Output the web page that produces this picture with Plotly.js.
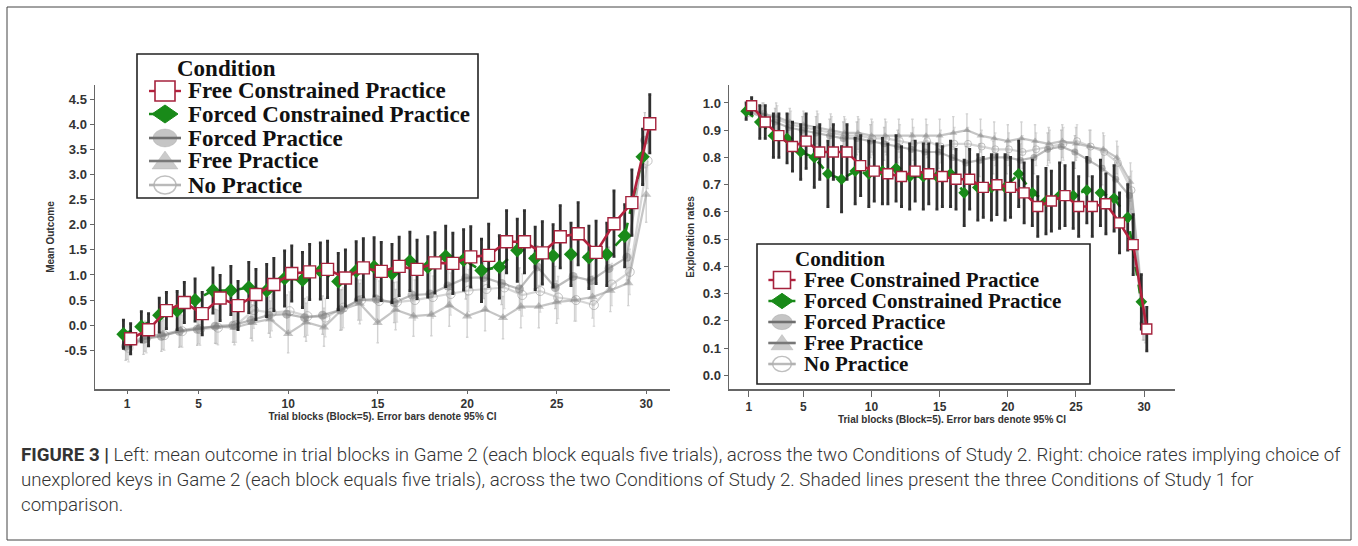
<!DOCTYPE html>
<html>
<head>
<meta charset="utf-8">
<script src="https://cdn.plot.ly/plotly-3.0.1.min.js"></script>
<style>html,body{margin:0;padding:0;background:#fff;}#chart{width:1358px;height:546px;}</style>
</head>
<body>
<div id="chart"></div>
<script>
// ---------- data ----------
const blocks = [1,2,3,4,5,6,7,8,9,10,11,12,13,14,15,16,17,18,19,20,21,22,23,24,25,26,27,28,29,30];
const xTickVals = [1,5,10,15,20,25,30];
const seriesNames = ["Free Constrained Practice","Forced Constrained Practice","Forced Practice","Free Practice","No Practice"];
const legendTitle = "Condition";

// Left panel: mean outcome
const leftYTicks = [-0.5,0,0.5,1,1.5,2,2.5,3,3.5,4,4.5];
const L_freeConstrained = [-0.27,-0.09,0.29,0.45,0.23,0.54,0.39,0.61,0.81,1.03,1.06,1.11,0.94,1.14,1.07,1.17,1.11,1.24,1.23,1.36,1.39,1.66,1.66,1.44,1.76,1.82,1.45,2.02,2.44,4.01];
const L_freeConstrainedCI = [0.30,0.32,0.36,0.40,0.42,0.45,0.48,0.50,0.52,0.55,0.55,0.56,0.56,0.58,0.58,0.58,0.58,0.60,0.60,0.60,0.62,0.62,0.62,0.62,0.62,0.62,0.62,0.65,0.65,0.58];
const L_forcedConstrained = [-0.18,-0.03,0.20,0.29,0.50,0.69,0.69,0.75,0.69,0.93,0.90,1.08,0.87,1.08,1.16,1.03,1.27,1.16,1.37,1.30,1.09,1.16,1.49,1.33,1.38,1.41,1.35,1.41,1.78,3.35];
const L_forcedConstrainedCI = [0.28,0.30,0.34,0.38,0.42,0.45,0.48,0.50,0.52,0.55,0.55,0.56,0.56,0.58,0.58,0.58,0.58,0.60,0.60,0.60,0.62,0.62,0.62,0.62,0.62,0.62,0.62,0.62,0.62,0.55];
const L_forcedPractice = [-0.42,-0.28,-0.22,-0.12,-0.08,-0.02,0.00,0.10,0.20,0.22,0.15,0.20,0.30,0.50,0.52,0.45,0.60,0.62,0.78,0.94,0.95,0.83,0.72,1.16,0.75,0.97,0.89,1.13,1.35,3.68];
const L_freePractice = [-0.40,-0.22,-0.18,-0.10,-0.05,-0.03,-0.05,0.05,0.12,-0.17,0.06,-0.04,0.31,0.43,0.05,0.31,0.18,0.21,0.40,0.18,0.31,0.15,0.37,0.37,0.46,0.50,0.56,0.69,0.84,2.60];
const L_noPractice = [-0.45,-0.25,-0.20,-0.12,-0.08,-0.05,0.00,0.30,0.25,0.28,0.18,0.15,0.35,0.50,0.48,0.46,0.50,0.56,0.62,0.69,0.72,0.75,0.60,0.68,0.55,0.50,0.40,0.81,1.06,3.27];
const L_grayCI = [0.28,0.30,0.30,0.32,0.32,0.34,0.34,0.36,0.36,0.38,0.38,0.38,0.40,0.40,0.40,0.40,0.40,0.42,0.42,0.42,0.42,0.42,0.42,0.42,0.42,0.42,0.42,0.42,0.45,0.55];

// Right panel: exploration rates
const rightYTicks = [0,0.1,0.2,0.3,0.4,0.5,0.6,0.7,0.8,0.9,1.0];
const R_freeConstrained = [0.99,0.93,0.88,0.84,0.86,0.82,0.82,0.82,0.77,0.75,0.74,0.73,0.75,0.74,0.73,0.72,0.72,0.69,0.70,0.69,0.67,0.62,0.64,0.66,0.62,0.62,0.63,0.56,0.48,0.17];
const R_freeConstrainedCI = [0.03,0.06,0.08,0.09,0.10,0.10,0.10,0.10,0.11,0.11,0.11,0.11,0.11,0.11,0.11,0.11,0.11,0.11,0.11,0.11,0.11,0.11,0.11,0.11,0.11,0.11,0.11,0.11,0.11,0.08];
const R_forcedConstrained = [0.97,0.93,0.88,0.87,0.82,0.80,0.74,0.72,0.75,0.74,0.75,0.76,0.73,0.73,0.73,0.74,0.67,0.69,0.69,0.69,0.74,0.67,0.64,0.66,0.66,0.68,0.67,0.65,0.58,0.27];
const R_forcedConstrainedCI = [0.03,0.06,0.08,0.09,0.10,0.11,0.12,0.12,0.12,0.12,0.12,0.12,0.12,0.12,0.12,0.12,0.12,0.12,0.12,0.12,0.12,0.12,0.12,0.12,0.12,0.12,0.12,0.12,0.12,0.10];
const R_forcedPractice = [0.97,0.95,0.93,0.91,0.90,0.89,0.88,0.87,0.87,0.86,0.85,0.84,0.83,0.82,0.82,0.80,0.78,0.79,0.80,0.80,0.79,0.80,0.83,0.84,0.82,0.79,0.76,0.72,0.66,0.19];
const R_freePractice = [0.98,0.96,0.95,0.93,0.92,0.91,0.90,0.89,0.89,0.88,0.88,0.88,0.88,0.88,0.88,0.89,0.90,0.88,0.87,0.86,0.87,0.86,0.85,0.86,0.85,0.84,0.83,0.80,0.71,0.19];
const R_noPractice = [0.97,0.96,0.94,0.92,0.91,0.90,0.89,0.88,0.88,0.87,0.87,0.86,0.85,0.86,0.84,0.85,0.85,0.84,0.83,0.83,0.82,0.83,0.84,0.85,0.86,0.84,0.82,0.78,0.68,0.18];
const R_grayCI = [0.02,0.04,0.05,0.05,0.05,0.06,0.06,0.06,0.06,0.06,0.06,0.06,0.06,0.06,0.06,0.06,0.06,0.06,0.06,0.06,0.06,0.06,0.06,0.06,0.06,0.06,0.06,0.06,0.07,0.06];

const captionLines = [
  "<b>FIGURE 3 |</b> Left: mean outcome in trial blocks in Game 2 (each block equals five trials), across the two Conditions of Study 2. Right: choice rates implying choice of",
  "unexplored keys in Game 2 (each block equals five trials), across the two Conditions of Study 2. Shaded lines present the three Conditions of Study 1 for",
  "comparison."
];

// ---------- styles ----------
const W = 1358, H = 546;
const px = v => v / W, py = v => (H - v) / H;
const styles = [
  {line:{color:'#b3213d',width:2.6}, marker:{symbol:'square',size:12,color:'#ffffff',line:{color:'#a5223c',width:1.4}}, err:{color:'rgba(25,25,25,0.9)',thickness:2.8,width:1.5}, dodge:0.2},
  {line:{color:'#198a19',width:2.6,dash:'dash'}, marker:{symbol:'diamond',size:11,color:'#198a19'}, err:{color:'rgba(25,25,25,0.9)',thickness:2.8,width:1.5}, dodge:-0.2},
  {line:{color:'rgba(120,120,120,0.5)',width:2.2}, marker:{symbol:'circle',size:9,color:'rgba(120,120,120,0.5)'}, err:{color:'rgba(150,150,150,0.5)',thickness:1.4,width:1.2}, dodge:-0.08},
  {line:{color:'rgba(140,140,140,0.5)',width:2.2}, marker:{symbol:'triangle-up',size:9,color:'rgba(140,140,140,0.5)'}, err:{color:'rgba(165,165,165,0.5)',thickness:1.4,width:1.2}, dodge:0.0},
  {line:{color:'rgba(180,180,180,0.55)',width:2.2}, marker:{symbol:'circle-open',size:9,color:'rgba(170,170,170,0.7)'}, err:{color:'rgba(185,185,185,0.5)',thickness:1.4,width:1.2}, dodge:0.08}
];

function mk(idx, ys, ci, xa, ya, msize) {
  const s = styles[idx];
  const marker = Object.assign({}, s.marker, {size: msize ? msize(s.marker.size) : s.marker.size});
  return {
    type:'scatter', mode:'lines+markers', name: seriesNames[idx], showlegend:false,
    x: blocks.map(b => b + s.dodge), y: ys,
    xaxis: xa, yaxis: ya,
    line: s.line, marker: marker,
    error_y: {type:'data', array: ci, visible:true, color:s.err.color, thickness:s.err.thickness, width:s.err.width},
    hoverinfo:'skip'
  };
}
const small = v => v - 2;
const traces = [
  mk(4, L_noPractice, L_grayCI, 'x', 'y'),
  mk(3, L_freePractice, L_grayCI, 'x', 'y'),
  mk(2, L_forcedPractice, L_grayCI, 'x', 'y'),
  mk(1, L_forcedConstrained, L_forcedConstrainedCI, 'x', 'y'),
  mk(0, L_freeConstrained, L_freeConstrainedCI, 'x', 'y'),
  mk(4, R_noPractice, R_grayCI, 'x2', 'y2', small),
  mk(3, R_freePractice, R_grayCI, 'x2', 'y2', small),
  mk(2, R_forcedPractice, R_grayCI, 'x2', 'y2', small),
  mk(1, R_forcedConstrained, R_forcedConstrainedCI, 'x2', 'y2', small),
  mk(0, R_freeConstrained, R_freeConstrainedCI, 'x2', 'y2', small)
];

// ---------- custom legends (layout decoration) ----------
const shapes = [];
const annotations = [];
function addLegend(box, rows, sc, fontSize) {
  shapes.push({type:'rect', xref:'paper', yref:'paper', x0:px(box.x0), x1:px(box.x1), y0:py(box.y1), y1:py(box.y0),
    fillcolor:'#fff', line:{color:'#222', width:1.6}, layer:'above'});
  const font = {family:'Liberation Serif, Times New Roman, serif', size:fontSize, color:'#111', weight:'bold'};
  annotations.push({xref:'paper', yref:'paper', x:px(box.x0 + box.titleOff), y:py(rows.title), xanchor:'left', yanchor:'middle',
    showarrow:false, text:legendTitle, font:font});
  rows.items.forEach((cy, i) => {
    const cx = box.x0 + box.symOff;
    const anc = {xref:'paper', yref:'paper', xsizemode:'pixel', ysizemode:'pixel', xanchor:px(cx), yanchor:py(cy), layer:'above'};
    const lineCols = ['#b3213d', '#198a19', 'rgba(110,110,110,0.8)', 'rgba(120,120,120,0.8)', 'rgba(175,175,175,0.8)'];
    const half = 16 * sc;
    shapes.push({type:'line', xref:'paper', yref:'paper', x0:px(cx - half), x1:px(cx + half), y0:py(cy), y1:py(cy),
      line:{color:lineCols[i], width:2.4, dash: i === 1 ? 'dash' : 'solid'}, layer:'above'});
    if (i === 0) {
      shapes.push(Object.assign({type:'rect', x0:-10*sc, x1:10*sc, y0:-10*sc, y1:10*sc, fillcolor:'#fff', line:{color:'#a5223c', width:1.6}}, anc));
    } else if (i === 1) {
      shapes.push(Object.assign({type:'path', path:`M${-13*sc},0 L0,${9*sc} L${13*sc},0 L0,${-9*sc} Z`, fillcolor:'#198a19', line:{color:'#198a19', width:1}}, anc));
    } else if (i === 2) {
      shapes.push(Object.assign({type:'circle', x0:-12*sc, x1:12*sc, y0:-9*sc, y1:9*sc, fillcolor:'rgba(150,150,150,0.55)', line:{color:'rgba(150,150,150,0.3)', width:1}}, anc));
      shapes.push({type:'line', xref:'paper', yref:'paper', x0:px(cx - half), x1:px(cx + half), y0:py(cy), y1:py(cy), line:{color:'rgba(100,100,100,0.75)', width:2.4}, layer:'above'});
    } else if (i === 3) {
      shapes.push(Object.assign({type:'path', path:`M${-13*sc},${-8*sc} L${13*sc},${-8*sc} L0,${10*sc} Z`, fillcolor:'rgba(160,160,160,0.55)', line:{color:'rgba(160,160,160,0.3)', width:1}}, anc));
      shapes.push({type:'line', xref:'paper', yref:'paper', x0:px(cx - half), x1:px(cx + half), y0:py(cy), y1:py(cy), line:{color:'rgba(110,110,110,0.75)', width:2.4}, layer:'above'});
    } else {
      shapes.push(Object.assign({type:'circle', x0:-11*sc, x1:11*sc, y0:-9*sc, y1:9*sc, fillcolor:'rgba(255,255,255,0.9)', line:{color:'rgba(175,175,175,0.8)', width:1.4}}, anc));
      shapes.push({type:'line', xref:'paper', yref:'paper', x0:px(cx - half), x1:px(cx + half), y0:py(cy), y1:py(cy), line:{color:'rgba(175,175,175,0.85)', width:2.4}, layer:'above'});
    }
    annotations.push({xref:'paper', yref:'paper', x:px(box.x0 + box.textOff), y:py(cy), xanchor:'left', yanchor:'middle',
      showarrow:false, text:seriesNames[i], font:font});
  });
}
addLegend({x0:137, x1:478, y0:54, y1:198, symOff:28, textOff:49, titleOff:38},
          {title:68, items:[91, 114, 138, 161, 185]}, 1.0, 23);
addLegend({x0:757, x1:1090, y0:244, y1:384, symOff:25, textOff:45, titleOff:36},
          {title:259, items:[280, 301, 322, 343, 364]}, 0.85, 21);

// frame
shapes.push({type:'rect', xref:'paper', yref:'paper', x0:px(7), x1:px(1351), y0:py(540), y1:py(7), line:{color:'#444', width:1}, fillcolor:'rgba(0,0,0,0)', layer:'below'});

captionLines.forEach((t, i) => annotations.push({
  xref:'paper', yref:'paper', x:px(19), y:py(455 + i*25), xanchor:'left', yanchor:'middle', showarrow:false, align:'left',
  text:t, font:{family:'Roboto, Liberation Sans, sans-serif', size:18.7, color:'#333', weight:300}
}));

const tickFont = {family:'Liberation Sans, Arial, sans-serif', size:13, color:'#333', weight:'bold'};
const xTickFont = {family:'Liberation Sans, Arial, sans-serif', size:12, color:'#333', weight:'bold'};
const titleFont = {family:'Liberation Sans, Arial, sans-serif', size:10, color:'#333', weight:'bold'};
const axisCommon = {showline:true, linecolor:'#666', linewidth:1.5, ticks:'outside', ticklen:4, tickcolor:'#666', tickwidth:1,
  showgrid:false, zeroline:false, tickfont:tickFont, mirror:false, fixedrange:true};

const layout = {
  width: W, height: H, margin:{l:0,r:0,t:0,b:0},
  paper_bgcolor:'#fff', plot_bgcolor:'#fff', showlegend:false,
  font:{family:'Liberation Sans, Arial, sans-serif'},
  xaxis: Object.assign({}, axisCommon, {domain:[px(95), px(670)], range:[-0.79, 31.33], tickvals:xTickVals, anchor:'y', ticklen:3, tickfont:xTickFont,
    title:{text:'Trial blocks (Block=5). Error bars denote 95% CI', font:titleFont, standoff:0}}),
  yaxis: Object.assign({}, axisCommon, {domain:[py(389), py(85)], range:[-1.27, 4.78], tickvals:leftYTicks,
    ticktext:leftYTicks.map(v => v.toFixed(1)), anchor:'x',
    title:{text:'Mean Outcome', font:titleFont, standoff:8}}),
  xaxis2: Object.assign({}, axisCommon, {domain:[px(729), px(1175)], range:[-0.46, 32.27], tickvals:xTickVals, anchor:'y2', ticklen:6, tickfont:xTickFont,
    title:{text:'Trial blocks (Block=5). Error bars denote 95% CI', font:titleFont, standoff:2}}),
  yaxis2: Object.assign({}, axisCommon, {domain:[py(389), py(85)], range:[-0.05, 1.066], tickvals:rightYTicks,
    ticktext:rightYTicks.map(v => v.toFixed(1)), anchor:'x2',
    title:{text:'Exploration rates', font:titleFont, standoff:6}}),
  shapes: shapes,
  annotations: annotations
};

Plotly.newPlot('chart', traces, layout, {staticPlot:true, displayModeBar:false});
</script>
</body>
</html>
